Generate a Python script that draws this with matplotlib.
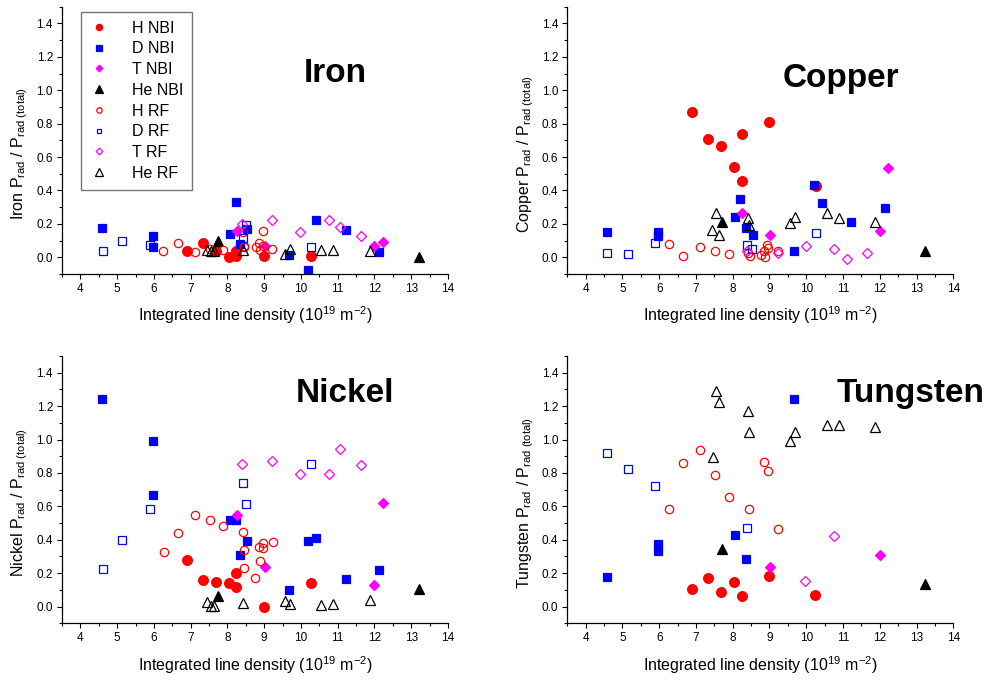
import matplotlib
matplotlib.use("Agg")
import matplotlib.pyplot as plt
from matplotlib.ticker import MultipleLocator, FormatStrFormatter

plt.rcParams["font.family"] = ["Liberation Sans", "DejaVu Sans"]
plt.rcParams["mathtext.fontset"] = "custom"
plt.rcParams["mathtext.rm"] = "Liberation Sans"
plt.rcParams["mathtext.it"] = "Liberation Sans:italic"
plt.rcParams["mathtext.bf"] = "Liberation Sans:bold"

# (line density [1e19 m^-2], fraction of total radiated power)
# --- Iron ---
fe_h_nbi = [(6.90, 0.04), (7.34, 0.086), (7.70, 0.04), (8.03, 0.0), (8.24, 0.035),
            (8.24, 0.01), (8.99, 0.01), (10.26, 0.01)]
fe_d_nbi = [(4.60, 0.174), (5.98, 0.13), (5.98, 0.064), (8.06, 0.14), (8.22, 0.33),
            (8.33, 0.08), (8.53, 0.17), (9.68, 0.016), (10.20, -0.076), (10.42, 0.222),
            (11.23, 0.164), (12.12, 0.03)]
fe_t_nbi = [(8.25, 0.16), (9.02, 0.07), (12.00, 0.07), (12.23, 0.09)]
fe_he_nbi = [(7.73, 0.10), (13.21, 0.0)]
fe_h_rf = [(6.26, 0.04), (6.65, 0.085), (7.12, 0.03), (7.52, 0.05), (7.89, 0.045),
           (8.42, 0.15), (8.45, 0.07), (8.45, 0.06), (8.77, 0.06), (8.85, 0.085),
           (8.96, 0.155), (8.96, 0.07), (9.22, 0.05), (8.88, 0.045)]
fe_d_rf = [(4.62, 0.04), (5.14, 0.096), (5.90, 0.074), (8.41, 0.114), (8.50, 0.195),
           (10.26, 0.064)]
fe_t_rf = [(8.40, 0.20), (9.22, 0.225), (9.97, 0.15), (10.75, 0.224), (11.07, 0.18),
           (11.62, 0.126)]
fe_he_rf = [(7.45, 0.044), (7.55, 0.04), (7.63, 0.036), (8.43, 0.044), (9.56, 0.02),
            (9.70, 0.05), (10.55, 0.044), (10.88, 0.046), (11.87, 0.04)]

# --- Copper ---
cu_h_nbi = [(6.90, 0.87), (7.34, 0.706), (7.68, 0.668), (8.03, 0.542), (8.24, 0.738),
            (8.25, 0.457), (8.99, 0.812), (10.26, 0.425)]
cu_d_nbi = [(4.58, 0.15), (5.98, 0.154), (5.98, 0.126), (8.07, 0.24), (8.21, 0.347),
            (8.35, 0.174), (8.55, 0.132), (9.67, 0.038), (10.20, 0.43), (10.42, 0.327),
            (11.23, 0.211), (12.14, 0.295)]
cu_t_nbi = [(8.26, 0.263), (9.02, 0.136), (12.00, 0.16), (12.23, 0.536)]
cu_he_nbi = [(7.72, 0.209), (13.22, 0.04)]
cu_h_rf = [(6.26, 0.078), (6.65, 0.01), (7.12, 0.06), (7.52, 0.035), (7.89, 0.02),
           (8.42, 0.025), (8.46, 0.005), (8.77, 0.015), (8.85, 0.035), (8.93, 0.075),
           (8.96, 0.055), (8.88, 0.0), (9.24, 0.04)]
cu_d_rf = [(4.59, 0.026), (5.14, 0.02), (5.89, 0.084), (8.40, 0.074), (8.52, 0.048),
           (10.26, 0.144)]
cu_t_rf = [(8.38, 0.04), (9.22, 0.026), (9.98, 0.068), (10.75, 0.052), (11.10, -0.01),
           (11.65, 0.026)]
cu_he_rf = [(7.44, 0.164), (7.55, 0.265), (7.63, 0.134), (8.42, 0.235), (8.44, 0.196),
            (9.55, 0.203), (9.69, 0.243), (10.57, 0.267), (10.89, 0.235), (11.88, 0.21)]

# --- Nickel ---
ni_h_nbi = [(6.90, 0.28), (7.34, 0.158), (7.70, 0.15), (8.03, 0.142), (8.24, 0.203),
            (8.24, 0.118), (8.99, 0.0), (10.26, 0.14)]
ni_d_nbi = [(4.60, 1.244), (5.98, 0.994), (5.98, 0.67), (8.06, 0.52), (8.22, 0.52),
            (8.33, 0.31), (8.53, 0.393), (9.68, 0.097), (10.20, 0.392), (10.42, 0.412),
            (11.23, 0.164), (12.12, 0.222)]
ni_t_nbi = [(8.26, 0.546), (9.01, 0.238), (11.99, 0.132), (12.23, 0.62)]
ni_he_nbi = [(7.73, 0.064), (13.21, 0.104)]
ni_h_rf = [(6.27, 0.326), (6.65, 0.44), (7.11, 0.551), (7.52, 0.519), (7.88, 0.481),
           (8.42, 0.447), (8.46, 0.336), (8.46, 0.232), (8.76, 0.17), (8.86, 0.354),
           (8.97, 0.38), (8.97, 0.35), (9.24, 0.388), (8.88, 0.27)]
ni_d_rf = [(4.62, 0.226), (5.14, 0.398), (5.90, 0.584), (8.41, 0.738), (8.50, 0.612),
           (10.26, 0.856)]
ni_t_rf = [(8.40, 0.854), (9.22, 0.872), (9.97, 0.792), (10.75, 0.796), (11.07, 0.944),
           (11.62, 0.846)]
ni_he_rf = [(7.45, 0.03), (7.55, 0.004), (7.63, 0.004), (8.43, 0.02), (9.56, 0.032),
            (9.70, 0.018), (10.55, 0.01), (10.88, 0.014), (11.87, 0.038)]

# --- Tungsten ---
w_h_nbi = [(6.90, 0.104), (7.34, 0.17), (7.68, 0.088), (8.03, 0.15), (8.25, 0.066),
           (8.99, 0.182), (10.25, 0.068)]
w_d_nbi = [(4.58, 0.176), (5.98, 0.374), (5.98, 0.33), (8.07, 0.43), (8.35, 0.282),
           (9.67, 1.244)]
w_t_nbi = [(9.02, 0.238), (12.00, 0.31)]
w_he_nbi = [(7.72, 0.344), (13.22, 0.134)]
w_h_rf = [(6.26, 0.584), (6.64, 0.86), (7.12, 0.938), (7.53, 0.788), (7.89, 0.656),
          (8.44, 0.584), (8.85, 0.864), (8.95, 0.814), (9.24, 0.462)]
w_d_rf = [(4.59, 0.92), (5.14, 0.824), (5.89, 0.724), (8.40, 0.472)]
w_t_rf = [(9.97, 0.156), (10.75, 0.422)]
w_he_rf = [(7.45, 0.894), (7.55, 1.288), (7.62, 1.224), (8.42, 1.168), (8.43, 1.048),
           (9.55, 0.994), (9.69, 1.048), (10.57, 1.084), (10.89, 1.086), (11.88, 1.078)]

series_labels = ["H NBI", "D NBI", "T NBI", "He NBI", "H RF", "D RF", "T RF", "He RF"]

# marker, colour, filled, size
styles = [
    ("o", "#ff0000", True, 7.0),
    ("s", "#0000ff", True, 6.3),
    ("D", "#ff00ff", True, 5.2),
    ("^", "#000000", True, 7.8),
    ("o", "#ff0000", False, 6.0),
    ("s", "#0000ff", False, 5.4),
    ("D", "#ff00ff", False, 5.2),
    ("^", "#000000", False, 7.8),
]

panels = [
    ("Iron", [fe_h_nbi, fe_d_nbi, fe_t_nbi, fe_he_nbi, fe_h_rf, fe_d_rf, fe_t_rf, fe_he_rf],
     [62.0, 6.7], (0.707, 0.718)),
    ("Copper", [cu_h_nbi, cu_d_nbi, cu_t_nbi, cu_he_nbi, cu_h_rf, cu_d_rf, cu_t_rf, cu_he_rf],
     [567.3, 6.7], (0.71, 0.698)),
    ("Nickel", [ni_h_nbi, ni_d_nbi, ni_t_nbi, ni_he_nbi, ni_h_rf, ni_d_rf, ni_t_rf, ni_he_rf],
     [62.0, 356.0], (0.732, 0.829)),
    ("Tungsten", [w_h_nbi, w_d_nbi, w_t_nbi, w_he_nbi, w_h_rf, w_d_rf, w_t_rf, w_he_rf],
     [567.3, 356.0], (0.889, 0.829)),
]

W, H = 989, 680
AX_W, AX_H = 386.0, 267.3

fig = plt.figure(figsize=(W / 100, H / 100), dpi=100)

for idx, (name, groups, (left_px, top_px), title_pos) in enumerate(panels):
    ax = fig.add_axes([left_px / W, 1 - (top_px + AX_H) / H, AX_W / W, AX_H / H])
    for pts, label, (mk, col, filled, ms) in zip(groups, series_labels, styles):
        xs = [p[0] for p in pts]
        ys = [p[1] for p in pts]
        ax.plot(xs, ys, ls="none", marker=mk, ms=ms, mec=col,
                mfc=col if filled else "none", mew=0.9, label=label)

    ax.set_xlim(3.5, 14)
    ax.set_ylim(-0.1, 1.5)
    ax.xaxis.set_minor_locator(MultipleLocator(0.5))
    ax.yaxis.set_minor_locator(MultipleLocator(0.1))
    ax.set_yticks([0.0, 0.2, 0.4, 0.6, 0.8, 1.0, 1.2, 1.4])
    ax.set_xticks(range(4, 15))
    ax.yaxis.set_major_formatter(FormatStrFormatter("%.1f"))
    ax.tick_params(which="major", direction="out", length=3.5, width=0.8,
                   labelsize=8.5, pad=3)
    ax.tick_params(which="minor", direction="out", length=2, width=0.8)
    for side in ("top", "right"):
        ax.spines[side].set_visible(False)
    for side in ("left", "bottom"):
        ax.spines[side].set_linewidth(0.9)

    ax.set_ylabel(name + r" P$_{\mathrm{rad}}$ / P$_{\mathrm{rad\ (total)}}$",
                  fontsize=11.5)
    ax.yaxis.set_label_coords(-0.082, 0.45)
    ax.set_xlabel(r"Integrated line density (10$^{\mathrm{19}}$ m$^{\mathrm{-2}}$)",
                  fontsize=11.5, labelpad=7)

    ax.text(title_pos[0], title_pos[1], name, transform=ax.transAxes,
            ha="center", va="baseline", fontsize=24, fontweight="bold",
            clip_on=False)

    if idx == 0:
        leg = ax.legend(loc="upper left", bbox_to_anchor=(0.048, 0.981),
                        borderaxespad=0, fontsize=11.5, markerscale=0.65,
                        frameon=True, fancybox=False, edgecolor="#555555",
                        labelspacing=0.36, handlelength=1.2, handletextpad=1.45,
                        borderpad=0.55)
        leg.get_frame().set_linewidth(1.0)

fig.savefig("out.png", dpi=100)
